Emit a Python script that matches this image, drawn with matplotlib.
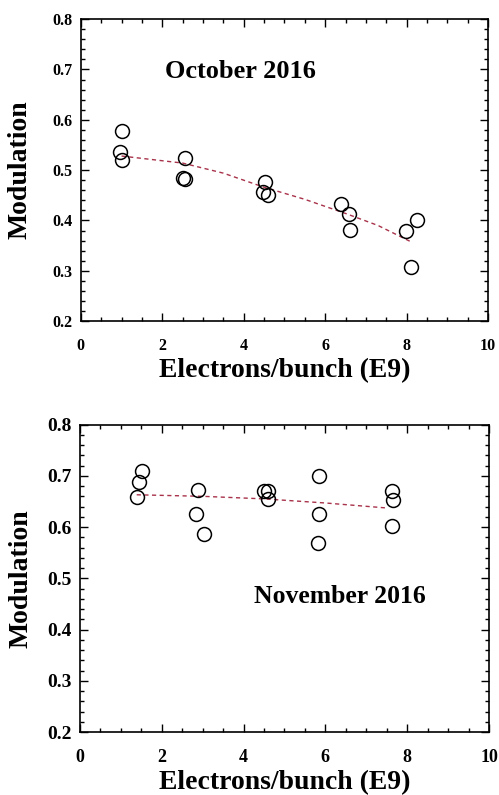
import matplotlib
matplotlib.use("Agg")
import matplotlib.pyplot as plt
from matplotlib.ticker import MultipleLocator

# ---- October 2016 data ----
oct_x = [1.00, 0.96, 1.01, 2.55, 2.50, 2.55, 4.52, 4.48, 4.60, 6.40, 6.58, 6.61, 7.99, 8.25, 8.11]
oct_y = [0.578, 0.536, 0.521, 0.524, 0.484, 0.483, 0.477, 0.457, 0.450, 0.433, 0.412, 0.381, 0.379, 0.401, 0.308]
oct_fit_x = [1.0, 2.5, 3.5, 4.5, 5.5, 6.5, 7.3, 8.15]
oct_fit_y = [0.528, 0.514, 0.494, 0.466, 0.442, 0.414, 0.390, 0.356]

# ---- November 2016 data ----
nov_x = [1.53, 1.45, 1.39, 2.89, 2.83, 3.04, 4.50, 4.59, 4.60, 5.85, 5.85, 5.83, 7.62, 7.65, 7.64]
nov_y = [0.709, 0.688, 0.658, 0.673, 0.625, 0.587, 0.671, 0.670, 0.654, 0.699, 0.625, 0.569, 0.671, 0.653, 0.602]
nov_fit_x = [1.39, 3.0, 4.5, 6.0, 7.54]
nov_fit_y = [0.663, 0.660, 0.655, 0.647, 0.637]

xticks = [0, 2, 4, 6, 8, 10]
yticks = [0.2, 0.3, 0.4, 0.5, 0.6, 0.7, 0.8]

SERIF = ["Liberation Serif", "DejaVu Serif"]
FIT_COLOR = "#a8324a"

fig = plt.figure(figsize=(4.99, 7.95), dpi=100)

def style(ax, ytick_size, xtick_size, ylabelpad):
    ax.set_xlim(0, 10)
    ax.set_ylim(0.2, 0.8)
    ax.set_xticks(xticks)
    ax.set_yticks(yticks)
    ax.set_xticklabels([str(t) for t in xticks])
    ax.set_yticklabels([f"{t:.1f}" for t in yticks])
    ax.xaxis.set_minor_locator(MultipleLocator(0.5))
    ax.yaxis.set_minor_locator(MultipleLocator(0.02))
    ax.tick_params(which="both", direction="in", top=True, right=True, width=1.0)
    ax.tick_params(which="major", length=6)
    ax.tick_params(which="minor", length=3)
    ax.tick_params(axis="x", which="major", pad=12)
    ax.tick_params(axis="y", which="major", pad=6)
    for lab in ax.get_yticklabels():
        lab.set_fontfamily(SERIF); lab.set_fontweight("bold"); lab.set_fontsize(ytick_size)
    for lab in ax.get_xticklabels():
        lab.set_fontfamily(SERIF); lab.set_fontweight("bold"); lab.set_fontsize(xtick_size)
    for s in ax.spines.values():
        s.set_linewidth(1.2)
    ax.set_xlabel("Electrons/bunch (E9)", fontfamily=SERIF, fontweight="bold", fontsize=20, labelpad=3)
    ax.set_ylabel("Modulation", fontfamily=SERIF, fontweight="bold", fontsize=20, labelpad=ylabelpad)

ax1 = fig.add_axes([0.162, 0.596, 0.816, 0.380])
ax1.plot(oct_fit_x, oct_fit_y, linestyle=(0, (3, 2.5)), color=FIT_COLOR, linewidth=1.0)
ax1.plot(oct_x, oct_y, linestyle="none", marker="o", markersize=10, markerfacecolor="none",
         markeredgecolor="black", markeredgewidth=1.1)
ax1.text(3.92, 0.695, "October 2016", fontfamily=SERIF, fontweight="bold", fontsize=19,
         ha="center", va="center")
style(ax1, 11.5, 11.5, 14)

ax2 = fig.add_axes([0.160, 0.079, 0.820, 0.387])
ax2.plot(nov_fit_x, nov_fit_y, linestyle=(0, (3, 2.5)), color=FIT_COLOR, linewidth=1.0)
ax2.plot(nov_x, nov_y, linestyle="none", marker="o", markersize=10, markerfacecolor="none",
         markeredgecolor="black", markeredgewidth=1.1)
ax2.text(6.36, 0.465, "November 2016", fontfamily=SERIF, fontweight="bold", fontsize=18.5,
         ha="center", va="center")
style(ax2, 14, 13, 10)

fig.savefig("out.png", dpi=100)
